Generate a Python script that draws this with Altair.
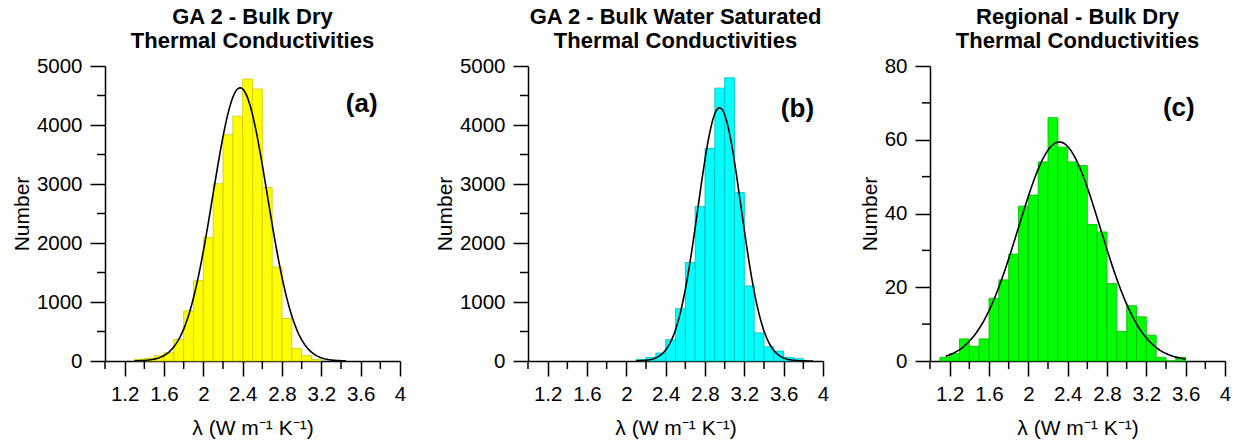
import altair as alt
import pandas as pd

# ---------------- data ----------------
# (a) GA 2 - Bulk Dry : histogram bins (start of 0.1-wide bin) and counts
a_start = [1.3, 1.4, 1.5, 1.6, 1.7, 1.8, 1.9, 2.0, 2.1, 2.2, 2.3, 2.4, 2.5, 2.6,
           2.7, 2.8, 2.9, 3.0, 3.1]
a_count = [28, 45, 90, 141, 367, 850, 1360, 2095, 3005, 3835, 4150, 4780, 4610,
           2940, 1590, 720, 210, 90, 25]

# (b) GA 2 - Bulk Water Saturated
b_start = [2.1, 2.2, 2.3, 2.4, 2.5, 2.6, 2.7, 2.8, 2.9, 3.0, 3.1, 3.2, 3.3, 3.4,
           3.5, 3.6, 3.7]
b_count = [28, 62, 135, 361, 885, 1670, 2617, 3604, 4625, 4800, 2854, 1272, 476,
           240, 169, 62, 40]

# (c) Regional - Bulk Dry
c_start = [1.1, 1.2, 1.3, 1.4, 1.5, 1.6, 1.7, 1.8, 1.9, 2.0, 2.1, 2.2, 2.3, 2.4,
           2.5, 2.6, 2.7, 2.8, 2.9, 3.0, 3.1, 3.2, 3.3, 3.4, 3.5]
c_count = [1, 2, 6, 4, 6, 17, 22, 29, 42, 45, 54, 66, 58, 54, 53, 37, 35, 21, 8,
           15, 12, 7, 1, 0, 1]

# fitted normal curves: mean, standard deviation, peak height, plotted range
a_fit = {"mu": 2.374, "sd": 0.277, "peak": 4631, "lo": 1.3, "hi": 3.45}
b_fit = {"mu": 2.948, "sd": 0.219, "peak": 4293, "lo": 2.1, "hi": 3.9}
c_fit = {"mu": 2.315, "sd": 0.417, "peak": 59.4, "lo": 1.16, "hi": 3.6}

# axis ticks (labelled = major, unlabelled = minor)
x_major = [1.2, 1.6, 2.0, 2.4, 2.8, 3.2, 3.6, 4.0]
x_minor = [1.0, 1.4, 1.8, 2.2, 2.6, 3.0, 3.4, 3.8]
y_major_ab = [0, 1000, 2000, 3000, 4000, 5000]
y_minor_ab = [500, 1500, 2500, 3500, 4500]
y_major_c = [0, 20, 40, 60, 80]
y_minor_c = [10, 30, 50, 70]

titles = [
    ["GA 2 - Bulk Dry", "Thermal Conductivities"],
    ["GA 2 - Bulk Water Saturated", "Thermal Conductivities"],
    ["Regional - Bulk Dry", "Thermal Conductivities"],
]
panel_labels = ["(a)", "(b)", "(c)"]

FONT = "Liberation Sans"
W = 295
H = 295
MAJOR = 15
MINOR = 8


def panel(title, starts, counts, fit, fill, stroke, ymax, ymajor, yminor,
          label, lab_x, lab_y):
    df = pd.DataFrame({"start": starts, "count": counts})
    xaxis = alt.Axis(
        values=x_major, title="λ (W m⁻¹ K⁻¹)", format="~g",
        tickSize=MAJOR, labelPadding=8, titlePadding=13,
        labelOverlap=False, labelFlush=False, grid=False,
    )
    yaxis = alt.Axis(
        values=ymajor, title="Number", format="d",
        tickSize=MAJOR, labelPadding=8, titlePadding=4,
        labelOverlap=False, labelFlush=False, grid=False,
    )
    xs = alt.Scale(domain=[1, 4], nice=False, zero=False)
    ys = alt.Scale(domain=[0, ymax], nice=False)

    bars = (
        alt.Chart(df)
        .transform_calculate(end="datum.start + 0.1", base="0")
        .mark_rect(fill=fill, stroke=stroke, strokeWidth=0.8, opacity=1)
        .encode(
            x=alt.X("start:Q", scale=xs, axis=xaxis),
            x2="end:Q",
            y=alt.Y("count:Q", scale=ys, axis=yaxis),
            y2="base:Q",
        )
    )
    curve = (
        alt.Chart(alt.sequence(fit["lo"], fit["hi"] + 0.005, 0.01, as_="x"))
        .transform_calculate(
            y=f"{fit['peak']} * exp(-0.5 * pow((datum.x - {fit['mu']}) / {fit['sd']}, 2))"
        )
        .mark_line(color="black", strokeWidth=1.6)
        .encode(x="x:Q", y="y:Q")
    )
    xminor = (
        alt.Chart(pd.DataFrame({"xm": x_minor}))
        .mark_rule(color="black", strokeWidth=1.5)
        .encode(x="xm:Q", y=alt.value(H), y2=alt.value(H + MINOR))
    )
    yminor_r = (
        alt.Chart(pd.DataFrame({"ym": yminor}))
        .mark_rule(color="black", strokeWidth=1.5)
        .encode(y="ym:Q", x=alt.value(0), x2=alt.value(-MINOR))
    )
    text = (
        alt.Chart()
        .mark_text(text=label, font=FONT, fontSize=26, fontWeight="bold",
                   color="black", align="center", baseline="middle")
        .encode(x=alt.datum(lab_x), y=alt.datum(lab_y))
    )
    return alt.layer(bars, curve, xminor, yminor_r, text).properties(
        width=W,
        height=H,
        title=alt.TitleParams(
            text=title, font=FONT, fontSize=22, fontWeight="bold",
            color="black", anchor="middle", offset=3, lineHeight=24.3,
        ),
    )


pa = panel(titles[0], a_start, a_count, a_fit, "#FFFF00", "#C9C900", 5000,
           y_major_ab, y_minor_ab, panel_labels[0], 3.61, 4360)
pb = panel(titles[1], b_start, b_count, b_fit, "#00FFFF", "#00B8B8", 5000,
           y_major_ab, y_minor_ab, panel_labels[1], 3.74, 4275)
pc = panel(titles[2], c_start, c_count, c_fit, "#00FF00", "#00B800", 80,
           y_major_c, y_minor_c, panel_labels[2], 3.53, 68.5)

chart = (
    alt.hconcat(alt.hconcat(pa, pb, spacing=28), pc, spacing=30)
    .properties(padding={"left": 11, "top": 5, "right": 5, "bottom": 0},
                background="white")
    .configure_view(stroke=None)
    .configure_axis(
        domainColor="black", domainWidth=1.5, tickColor="black", tickWidth=1.5,
        labelColor="black", labelFont=FONT, labelFontSize=20.5,
        titleColor="black", titleFont=FONT, titleFontSize=21,
        titleFontWeight="normal",
    )
)

chart.save("out.html", embed_options={"renderer": "svg", "actions": False})
